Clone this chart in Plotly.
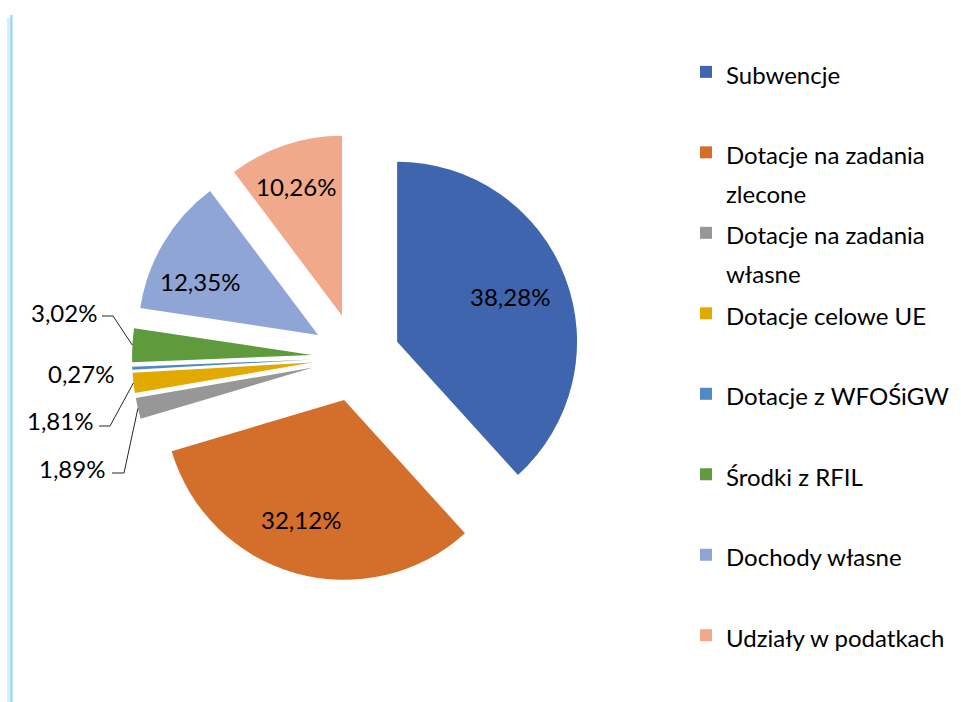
import math
import plotly.graph_objects as go

# ---------------- data ----------------
categories = ["Subwencje", "Dotacje na zadania zlecone", "Dotacje na zadania własne",
              "Dotacje celowe UE", "Dotacje z WFOŚiGW", "Środki z RFIL",
              "Dochody własne", "Udziały w podatkach"]
legend_lines = [["Subwencje"], ["Dotacje na zadania", "zlecone"], ["Dotacje na zadania", "własne"],
                ["Dotacje celowe UE"], ["Dotacje z WFOŚiGW"], ["Środki z RFIL"],
                ["Dochody własne"], ["Udziały w podatkach"]]
shares = [38.28, 32.12, 1.89, 1.81, 0.27, 3.02, 12.35, 10.26]
colors = ["#3F65AF", "#D46E2B", "#979797", "#E2AA00", "#4E8AC6", "#5F9A3C", "#8EA5D6", "#F1A98B"]

# ---------------- style ----------------
W, H = 961, 702
FONT = "Lato"
TXT = 24
PULL = 0.245
CX_PX, CY_PX, HALF_PX = 356, 357.5, 224
DOM_X = [(CX_PX - HALF_PX) / W, (CX_PX + HALF_PX) / W]
DOM_Y = [1 - (CY_PX + HALF_PX) / H, 1 - (CY_PX - HALF_PX) / H]

# inside labels: radial position (fraction of radius, from the slice apex) and pixel nudge
inside_style = {0: (0.62, 9, -5), 1: (0.71, -9, -3), 6: (0.72, -7, 13), 7: (0.75, -3, -1)}
# outside label placements (px): text centre, and horizontal leader segment (x_start, x_end, y) or None
outside_style = {
    2: dict(pos=(72, 468), seg=(112, 124, 473)),
    3: dict(pos=(60, 420), seg=(99, 110, 426)),
    4: dict(pos=(81, 374), seg=None),
    5: dict(pos=(64, 312), seg=(102, 113, 316)),
}

def fmt(v):
    return f"{v:.2f}".replace(".", ",") + "%"

pct_text = [fmt(v) for v in shares]

def legend_label(lines):
    l = lines + [" "] * (2 - len(lines))
    return "<br>".join(f"<span style='font-size:{TXT}px'>{s}</span>" for s in l)

labels = [legend_label(l) for l in legend_lines]

fig = go.Figure(go.Pie(
    labels=labels,
    values=shares,
    sort=False,
    direction="clockwise",
    rotation=0,
    pull=[PULL] * len(shares),
    marker=dict(colors=colors, line=dict(width=0)),
    textinfo="none",
    domain=dict(x=DOM_X, y=DOM_Y),
    hoverinfo="skip",
))

# geometry of the pie (same rules as plotly's own layout)
cx = (DOM_X[0] + DOM_X[1]) / 2 * W
cy = (1 - (DOM_Y[0] + DOM_Y[1]) / 2) * H
r = min((DOM_X[1] - DOM_X[0]) * W, (DOM_Y[1] - DOM_Y[0]) * H) / 2 / (1 + PULL)
total = sum(shares)

annotations = []
shapes = []
cum = 0
for i, v in enumerate(shares):
    mid = 2 * math.pi * (cum + v / 2) / total
    cum += v
    dx, dy = math.sin(mid), -math.cos(mid)
    if i in inside_style:
        frac, nx, ny = inside_style[i]
        f = PULL + frac
        tx, ty = cx + f * r * dx + nx, cy + f * r * dy + ny
        annotations.append(dict(x=tx / W, y=1 - ty / H, xref="paper", yref="paper",
                                text=pct_text[i], showarrow=False,
                                font=dict(family=FONT, size=TXT, color="black"),
                                xanchor="center", yanchor="middle"))
        continue
    st = outside_style[i]
    ax = cx + (1 + PULL) * r * dx
    ay = cy + (1 + PULL) * r * dy
    tx, ty = st["pos"]
    annotations.append(dict(x=tx / W, y=1 - ty / H, xref="paper", yref="paper",
                            text=pct_text[i], showarrow=False,
                            font=dict(family=FONT, size=TXT, color="black"),
                            xanchor="center", yanchor="middle"))
    if st["seg"]:
        x0, x1, yy = st["seg"]
        path = f"M {x0/W},{1-yy/H} L {x1/W},{1-yy/H} L {ax/W},{1-ay/H}"
        shapes.append(dict(type="path", path=path, xref="paper", yref="paper",
                           line=dict(color="#262626", width=1)))

# decorative left border
shapes.append(dict(type="line", xref="paper", yref="paper", x0=9 / W, x1=9 / W, y0=0, y1=1 - 18 / H,
                   line=dict(color="#d3eefb", width=4)))
shapes.append(dict(type="line", xref="paper", yref="paper", x0=11.5 / W, x1=11.5 / W, y0=0, y1=1 - 15 / H,
                   line=dict(color="#8fd3f3", width=2)))

fig.update_layout(
    width=W, height=H,
    margin=dict(l=0, r=0, t=0, b=0, pad=0),
    paper_bgcolor="white", plot_bgcolor="white",
    font=dict(family=FONT, size=TXT, color="black"),
    showlegend=True,
    legend=dict(x=686 / W, y=1 - 46 / H, xanchor="left", yanchor="top",
                font=dict(family=FONT, size=29.8, color="black"),
                valign="top", bgcolor="rgba(0,0,0,0)", traceorder="normal"),
    annotations=annotations,
    shapes=shapes,
)

fig.write_html("out.html", config={"displayModeBar": False},
               post_script="document.body.style.margin='0';")
